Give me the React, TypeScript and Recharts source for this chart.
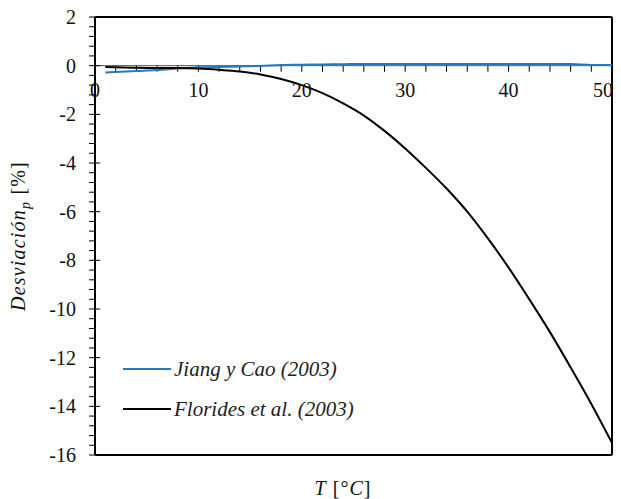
import React from 'react';
import { LineChart, Line, XAxis, YAxis, ReferenceLine, ReferenceDot } from 'recharts';

const temps = [1, 2, 4, 6, 8, 10, 12, 14, 16, 18, 20, 22, 24, 26, 28, 30, 32, 34, 36, 38, 40, 42, 44, 46, 48, 50];
const jiangCao = [-0.28, -0.26, -0.22, -0.18, -0.12, -0.07, -0.05, -0.03, -0.01, 0.03, 0.04, 0.05, 0.06, 0.07, 0.07, 0.07, 0.07, 0.07, 0.07, 0.07, 0.07, 0.07, 0.07, 0.07, 0.03, 0.03];
const florides = [-0.05, -0.07, -0.09, -0.1, -0.1, -0.12, -0.17, -0.24, -0.36, -0.55, -0.8, -1.13, -1.55, -2.05, -2.68, -3.4, -4.2, -5.05, -6.0, -7.1, -8.3, -9.6, -10.95, -12.4, -13.9, -15.5];

const xMajorTicks = [0, 10, 20, 30, 40, 50];
const xMinorTicks = [0, 2, 4, 6, 8, 10, 12, 14, 16, 18, 20, 22, 24, 26, 28, 30, 32, 34, 36, 38, 40, 42, 44, 46, 48, 50];
const yMajorTicks = [2, 0, -2, -4, -6, -8, -10, -12, -14, -16];
const yAllTicks: number[] = [];
for (let k = 0; k <= 45; k++) yAllTicks.push(Math.round((-16 + 0.4 * k) * 10) / 10);

const seriesNames = ['Jiang y Cao (2003)', 'Florides et al. (2003)'];
const BLUE = '#1f7bc4';
const FONT = '"Liberation Serif", "Times New Roman", serif';

const data = temps.map((t, i) => ({ T: t, jiang: jiangCao[i], florides: florides[i] }));

const LegendBox = () => (
  <div style={{ position: 'absolute', left: 115, top: 341, fontFamily: FONT, fontSize: 21, fontStyle: 'italic', color: '#222' }}>
    {[{ name: seriesNames[0], color: BLUE }, { name: seriesNames[1], color: '#000' }].map((r) => (
      <div key={r.name} style={{ height: 40, display: 'flex', alignItems: 'center' }}>
        <svg width={48} height={4} style={{ marginRight: 3 }}>
          <line x1={0} y1={2} x2={48} y2={2} stroke={r.color} strokeWidth={2} />
        </svg>
        <span>{r.name}</span>
      </div>
    ))}
  </div>
);

const makeTickLabel = (label: string, last: boolean) => (p: any) => (
  <text x={last ? p.cx + 1 : p.cx} y={p.cy} dy={31} textAnchor={last ? 'end' : 'middle'} fill="#111" fontSize={20} fontFamily={FONT}>
    {label}
  </text>
);

export default function App() {
  return (
    <div style={{ position: 'relative', width: 605, height: 491 }}>
      <style>{'svg.recharts-surface{overflow:visible} .recharts-wrapper{overflow:visible}'}</style>
      <LineChart width={613} height={483} data={data} margin={{ top: 9, right: 9, bottom: 36, left: 0 }}>
        <XAxis dataKey="T" type="number" domain={[0, 50]} hide />
        <YAxis
          type="number"
          domain={[-16, 2]}
          ticks={yAllTicks}
          interval={0}
          width={87}
          tickSize={6}
          tickMargin={13}
          axisLine={{ stroke: '#000', strokeWidth: 2 }}
          tickLine={{ stroke: '#000', strokeWidth: 1 }}
          tick={{ fill: '#111', fontSize: 20, fontFamily: FONT }}
          tickFormatter={(v: number) => (yMajorTicks.includes(v) ? String(v) : '')}
        />
        <ReferenceLine y={0} stroke="#555" strokeWidth={1} />
        {yMajorTicks.map((v) => (
          <ReferenceLine key={'ym' + v} segment={[{ x: 0, y: v }, { x: 0.5, y: v }]} stroke="#000" strokeWidth={1} ifOverflow="visible" />
        ))}
        {xMinorTicks.map((t) => (
          <ReferenceLine key={'xt' + t} segment={[{ x: t, y: 0 }, { x: t, y: -0.25 }]} stroke="#000" strokeWidth={1} ifOverflow="visible" />
        ))}
        <ReferenceLine y={2} stroke="#000" strokeWidth={2} />
        <ReferenceLine y={-16} stroke="#000" strokeWidth={2} />
        <ReferenceLine x={50} stroke="#000" strokeWidth={2} />
        <Line type="monotone" dataKey="jiang" name={seriesNames[0]} stroke={BLUE} strokeWidth={2} dot={false} isAnimationActive={false} />
        <Line type="monotone" dataKey="florides" name={seriesNames[1]} stroke="#000" strokeWidth={2} dot={false} isAnimationActive={false} />
        {xMajorTicks.map((t, i) => (
          <ReferenceDot key={'xl' + t} x={t} y={0} r={0} ifOverflow="visible" shape={makeTickLabel(String(t), i === xMajorTicks.length - 1)} />
        ))}
      </LineChart>
      <LegendBox />
      <div style={{ position: 'absolute', left: -90, top: 216, width: 200, height: 24, textAlign: 'center', transform: 'rotate(-90deg)', fontFamily: FONT, fontSize: 20, letterSpacing: '1.2px', color: '#111', lineHeight: '24px', whiteSpace: 'nowrap' }}>
        <i>Desviación</i><sub style={{ fontSize: 14 }}><i>p</i></sub> [%]
      </div>
      <div style={{ position: 'absolute', left: 235, top: 470, width: 200, height: 20, textAlign: 'center', fontFamily: FONT, fontSize: 20, letterSpacing: '1px', color: '#111', lineHeight: '20px' }}>
        <i>T</i> [°<i>C</i>]
      </div>
    </div>
  );
}
